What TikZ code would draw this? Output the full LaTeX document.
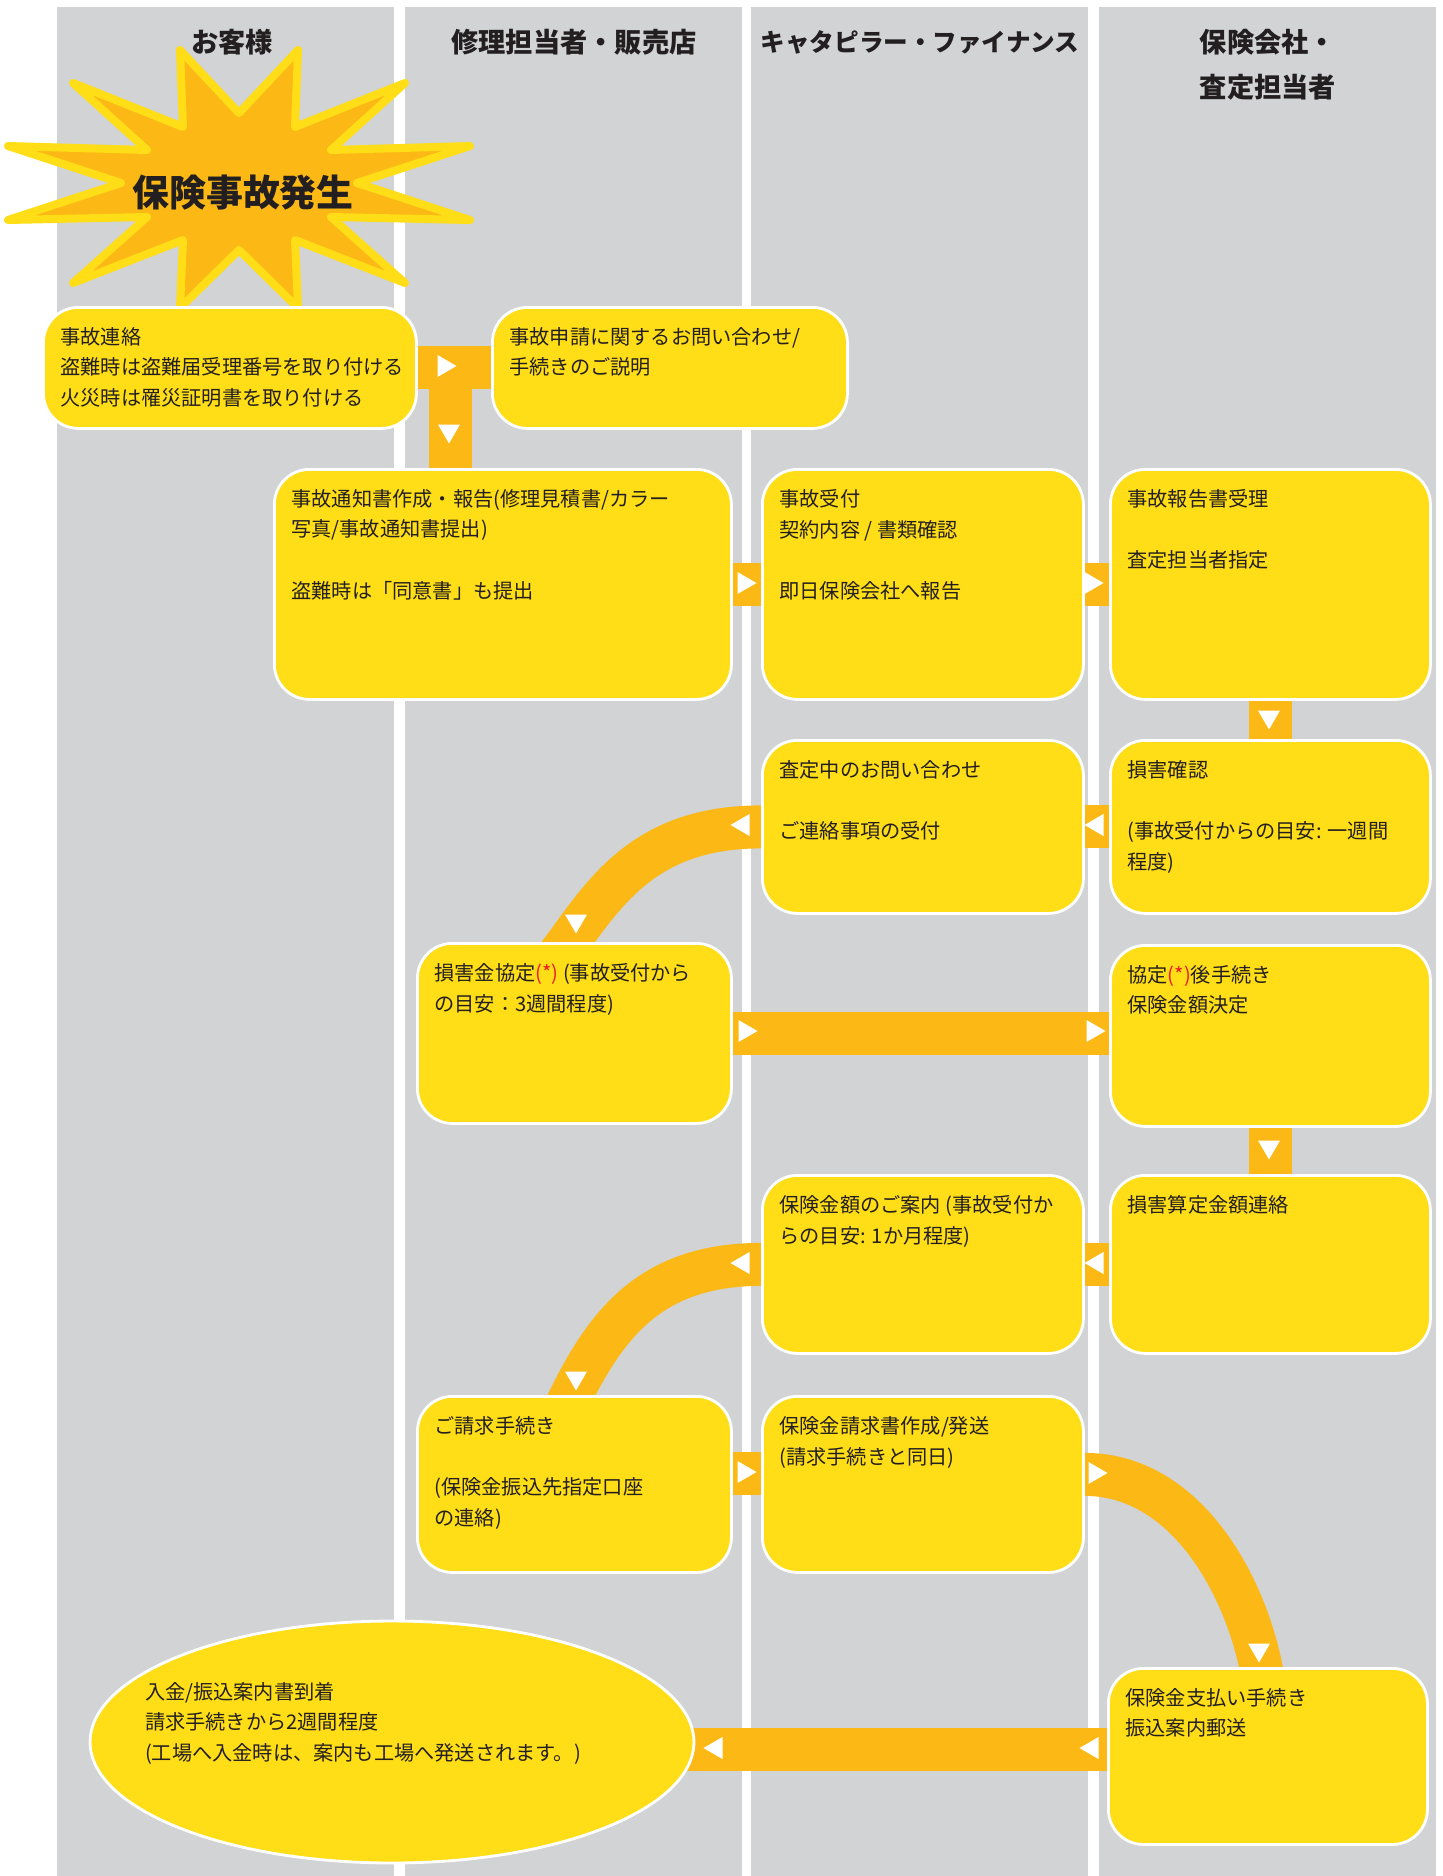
\documentclass[tikz,border=0pt]{standalone}
\usepackage{fontspec}
\setmainfont{Noto Sans CJK JP}
\usetikzlibrary{calc,shapes.geometric}
\definecolor{lanegray}{HTML}{D1D3D4}
\definecolor{boxyellow}{HTML}{FFDD17}
\definecolor{linkorange}{HTML}{FCB916}
\definecolor{textdark}{HTML}{231F20}
\definecolor{astred}{HTML}{ED1C24}
\newlength\pxu
\setlength\pxu{0.02cm}
\newcommand{\boxtext}[3]{\parbox[t][\dimexpr#2\pxu-0.8cm\relax][t]{\dimexpr#1\pxu-0.68cm\relax}{#3}}
\newcommand{\bodyfont}{\fontsize{11.5}{17.4}\selectfont}
\newcommand{\headfont}{\fontsize{15.5}{25.6}\selectfont\bfseries}
\pgfdeclarelayer{lanes}
\pgfdeclarelayer{links}
\pgfsetlayers{lanes,links,main}
\tikzset{
  flowbox/.style={rectangle, anchor=north west, rounded corners=0.7cm, fill=boxyellow, draw=white, line width=1.6pt, inner xsep=0.34cm, inner ysep=0.4cm, font=\bodyfont, text=textdark},
  endbox/.style={ellipse, fill=boxyellow, draw=white, line width=1.6pt, inner sep=0pt, font=\bodyfont, text=textdark, minimum width=12.08cm, minimum height=4.84cm},
  lanehead/.style={font=\headfont, text=textdark, align=center},
  link/.style={draw=linkorange, line width=0.86cm},
  tri/.pic={\fill[white] (-9.5,-11) -- (9.5,0) -- (-9.5,11) -- cycle;}
}
\begin{document}
\begin{tikzpicture}[x=0.02cm,y=-0.02cm]
\useasboundingbox (0,0) rectangle (1443,1876);
\begin{pgfonlayer}{lanes}
\fill[white] (0,0) rectangle (1443,1876);
\foreach \lx in {57,405,751,1099}
  \fill[lanegray] (\lx,7) rectangle +(337,1869);
\end{pgfonlayer}
% lane titles
\node[lanehead] (hcustomer) at (232,42) {お客様};
\node[lanehead] (hdealer) at (574,42) {修理担当者・販売店};
\node[lanehead, font=\fontsize{14}{20}\selectfont\bfseries] (hfinance) at (920,42) {キャタピラー・ファイナンス};
\node[lanehead] (hinsurer) at (1268,65) {保険会社・\\査定担当者};
% burst
\draw[fill=linkorange, draw=boxyellow, line width=0.16cm, line join=round] (180,50) -- (239,113) -- (298,50) -- (295,127) -- (405,83) -- (331,150) -- (470,146) -- (357,183) -- (470,220) -- (331,217) -- (405,283) -- (295,240) -- (298,308) -- (239,250) -- (180,308) -- (183,240) -- (73,283) -- (147,217) -- (8,220) -- (121,183) -- (8,146) -- (147,150) -- (73,83) -- (183,127) -- cycle;
\node[font=\fontsize{21}{21}\selectfont\bfseries, text=textdark] (incident) at (243,193) {保険事故発生};
% steps
\node[flowbox] (accident) at (42,306) {\boxtext{373}{121}{事故連絡\\盗難時は盗難届受理番号を取り付ける\\火災時は罹災証明書を取り付ける}};
\node[flowbox] (inquiry) at (491,306) {\boxtext{355}{121}{事故申請に関するお問い合わせ/\\手続きのご説明}};
\node[flowbox] (notice) at (273,468) {\boxtext{457}{230}{事故通知書作成・報告(修理見積書/カラー\\写真/事故通知書提出)\\[17.4pt]盗難時は「同意書」も提出}};
\node[flowbox] (receipt) at (761,468) {\boxtext{321}{230}{事故受付\\契約内容 / 書類確認\\[17.4pt]即日保険会社へ報告}};
\node[flowbox] (report) at (1109,468) {\boxtext{320}{230}{事故報告書受理\\[17.4pt]査定担当者指定}};
\node[flowbox] (question) at (761,739) {\boxtext{321}{173}{査定中のお問い合わせ\\[17.4pt]ご連絡事項の受付}};
\node[flowbox] (damage) at (1109,739) {\boxtext{320}{173}{損害確認\\[17.4pt](事故受付からの目安: 一週間\\程度)}};
\node[flowbox] (agree) at (416,942) {\boxtext{314}{180}{損害金協定\textcolor{astred}{(*)} (事故受付から\\の目安：3週間程度)}};
\node[flowbox] (after) at (1109,944) {\boxtext{320}{181}{協定\textcolor{astred}{(*)}後手続き\\保険金額決定}};
\node[flowbox] (amount) at (761,1174) {\boxtext{321}{178}{保険金額のご案内 (事故受付か\\らの目安: 1か月程度)}};
\node[flowbox] (calc) at (1109,1174) {\boxtext{320}{178}{損害算定金額連絡}};
\node[flowbox] (claim) at (416,1395) {\boxtext{314}{176}{ご請求手続き\\[17.4pt](保険金振込先指定口座\\の連絡)}};
\node[flowbox] (claimdoc) at (761,1395) {\boxtext{321}{176}{保険金請求書作成/発送\\(請求手続きと同日)}};
\node[flowbox] (payment) at (1107,1667) {\boxtext{319}{176}{保険金支払い手続き\\振込案内郵送}};
\node[endbox, text height=0.84cm, text depth=2.56cm] (arrive) at (392,1742) {\makebox[8.5cm][l]{\hspace*{-0.69cm}\parbox[t]{9.2cm}{入金/振込案内書到着\\請求手続きから2週間程度\\(工場へ入金時は、案内も工場へ発送されます。)}}};
% connectors
\begin{pgfonlayer}{links}
\draw[link] (accident.east) -- (inquiry.west);
\coordinate (split) at ($(accident.east)!0.45!(inquiry.west)$);
\draw[link] (split) -- (split |- notice.north);
\draw[link] (notice.east) -- (receipt.west);
\draw[link] (receipt.east) -- (report.west);
\draw[link] (report.south) -- (damage.north);
\draw[link] (damage.west) -- (question.east);
\draw[link] (question.west) .. controls +(-110,0) and +(41,-57) .. ($(agree.north)+(-6,0)$) -- +(-12,16);
\draw[link] (agree.east) -- (agree.east -| after.west);
\draw[link] (after.south) -- (calc.north);
\draw[link] (calc.west) -- (amount.east);
\draw[link] (amount.west) .. controls +(-110,0) and +(36,-71) .. ($(claim.north)+(-3,0)$) -- +(-9,18);
\coordinate (claimout) at ($(claim.east)+(0,-11)$);
\draw[link] (claimout) -- (claimout -| claimdoc.west);
\draw[link] ($(claimdoc.east)+(0,-10)$) .. controls +(98,0) and +(-18,-88) .. ($(payment.north)+(-7,0)$) -- +(4,20);
\coordinate (payout) at ($(payment.west)+(0,-7)$);
\draw[link] (payout) -- (payout -| arrive.center);
% direction marks
\pic at (447,366) {tri};
\pic[rotate=-90] at (449,434) {tri};
\pic at (747,583) {tri};
\pic at (1094,583) {tri};
\pic[rotate=-90] at (1269,720) {tri};
\pic[rotate=180] at (1094,825) {tri};
\pic[rotate=180] at (740,825) {tri};
\pic[rotate=-90] at (576,924) {tri};
\pic at (748,1031) {tri};
\pic at (1096,1031) {tri};
\pic[rotate=-90] at (1269,1150) {tri};
\pic[rotate=180] at (1094,1263) {tri};
\pic[rotate=180] at (740,1263) {tri};
\pic[rotate=-90] at (576,1381) {tri};
\pic at (747,1472) {tri};
\pic at (1098,1473) {tri};
\pic[rotate=-90] at (1259,1653) {tri};
\pic[rotate=180] at (713,1748) {tri};
\pic[rotate=180] at (1089,1748) {tri};
\end{pgfonlayer}
\end{tikzpicture}
\end{document}
